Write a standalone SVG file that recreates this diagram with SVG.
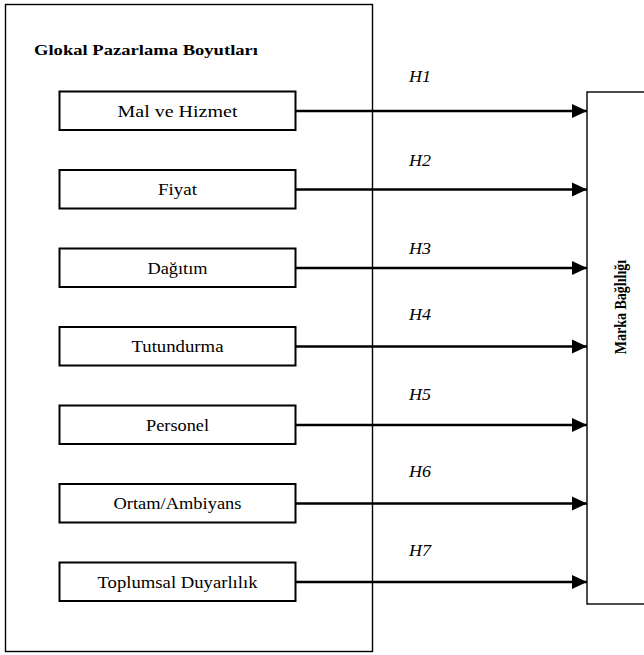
<svg xmlns="http://www.w3.org/2000/svg" width="644" height="655" viewBox="0 0 644 655">
  <style>
    text { font-family: "Liberation Serif", "Times New Roman", "DejaVu Serif", serif; fill: #000; }
    .frame { fill: #fff; stroke: #000; stroke-width: 1.4; }
    .box { fill: #fff; stroke: #000; stroke-width: 2; }
    .label { font-size: 17px; text-anchor: middle; }
    .title { font-size: 15px; font-weight: bold; }
    .vtitle { font-size: 14px; font-weight: bold; text-anchor: middle; }
    .hyp { font-size: 17px; font-style: italic; }
    .link { stroke: #000; stroke-width: 2.6; fill: none; marker-end: url(#head); }
  </style>
  <defs>
    <marker id="head" markerUnits="userSpaceOnUse" markerWidth="16" markerHeight="16" viewBox="0 0 16 16" refX="15" refY="8" orient="auto">
      <polygon points="0,1 15,8 0,15" fill="#000"/>
    </marker>
  </defs>

  <rect width="644" height="655" fill="#fff"/>

  <!-- left container: glocal marketing dimensions -->
  <g id="dimensions">
    <rect class="frame" x="5.5" y="4.5" width="367" height="647"/>
    <text class="title" x="34" y="55" textLength="224" lengthAdjust="spacingAndGlyphs">Glokal Pazarlama Boyutları</text>
  </g>

  <!-- right container: brand loyalty -->
  <g id="brand-loyalty">
    <rect class="frame" x="587" y="92" width="70" height="512"/>
    <text class="vtitle" transform="translate(625.5,307) rotate(-90) scale(1,1.15)">Marka Bağlılığı</text>
  </g>

  <g id="mal-ve-hizmet">
    <rect class="box" x="59.5" y="91.5" width="236" height="38.5"/>
    <text class="label" x="177.5" y="116.5" textLength="120" lengthAdjust="spacingAndGlyphs">Mal ve Hizmet</text>
  </g>
  <g id="fiyat">
    <rect class="box" x="59.5" y="170" width="236" height="38.5"/>
    <text class="label" x="177.5" y="195" textLength="39" lengthAdjust="spacingAndGlyphs">Fiyat</text>
  </g>
  <g id="dagitim">
    <rect class="box" x="59.5" y="248.5" width="236" height="38.5"/>
    <text class="label" x="177.5" y="273.5" textLength="60" lengthAdjust="spacingAndGlyphs">Dağıtım</text>
  </g>
  <g id="tutundurma">
    <rect class="box" x="59.5" y="327" width="236" height="38.5"/>
    <text class="label" x="177.5" y="352" textLength="92" lengthAdjust="spacingAndGlyphs">Tutundurma</text>
  </g>
  <g id="personel">
    <rect class="box" x="59.5" y="405.5" width="236" height="38.5"/>
    <text class="label" x="177.5" y="430.5" textLength="63" lengthAdjust="spacingAndGlyphs">Personel</text>
  </g>
  <g id="ortam-ambiyans">
    <rect class="box" x="59.5" y="484" width="236" height="38.5"/>
    <text class="label" x="177.5" y="509" textLength="128" lengthAdjust="spacingAndGlyphs">Ortam/Ambiyans</text>
  </g>
  <g id="toplumsal-duyarlilik">
    <rect class="box" x="59.5" y="562.5" width="236" height="38.5"/>
    <text class="label" x="177.5" y="587.5" textLength="160" lengthAdjust="spacingAndGlyphs">Toplumsal Duyarlılık</text>
  </g>

  <!-- hypothesis paths into brand loyalty -->
  <g id="connectors">
    <line class="link" x1="295.5" y1="111" x2="587" y2="111"/>
    <line class="link" x1="295.5" y1="189.5" x2="587" y2="189.5"/>
    <line class="link" x1="295.5" y1="268" x2="587" y2="268"/>
    <line class="link" x1="295.5" y1="346.5" x2="587" y2="346.5"/>
    <line class="link" x1="295.5" y1="425" x2="587" y2="425"/>
    <line class="link" x1="295.5" y1="503.5" x2="587" y2="503.5"/>
    <line class="link" x1="295.5" y1="582" x2="587" y2="582"/>
    <text class="hyp" x="409" y="82" textLength="22" lengthAdjust="spacingAndGlyphs">H1</text>
    <text class="hyp" x="409" y="166" textLength="22" lengthAdjust="spacingAndGlyphs">H2</text>
    <text class="hyp" x="409" y="254" textLength="22" lengthAdjust="spacingAndGlyphs">H3</text>
    <text class="hyp" x="409" y="320" textLength="22" lengthAdjust="spacingAndGlyphs">H4</text>
    <text class="hyp" x="409" y="400" textLength="22" lengthAdjust="spacingAndGlyphs">H5</text>
    <text class="hyp" x="409" y="477" textLength="22" lengthAdjust="spacingAndGlyphs">H6</text>
    <text class="hyp" x="409" y="556" textLength="22" lengthAdjust="spacingAndGlyphs">H7</text>
  </g>
</svg>
